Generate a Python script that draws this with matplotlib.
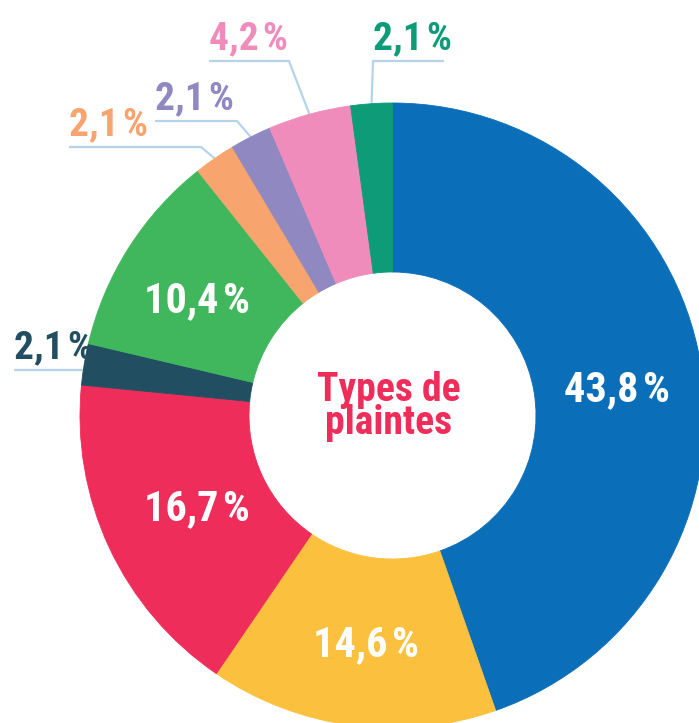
import numpy as np
import matplotlib
matplotlib.use("Agg")
import matplotlib.pyplot as plt
import matplotlib.font_manager as fm

# ---------------- data ----------------
SP = "\u200a"
values = [43.8, 14.6, 16.7, 2.1, 10.4, 2.1, 2.1, 4.2, 2.1]
value_labels = ["43,8" + SP + "%", "14,6" + SP + "%", "16,7" + SP + "%", "2,1" + SP + "%",
                "10,4" + SP + "%", "2,1" + SP + "%", "2,1" + SP + "%", "4,2" + SP + "%",
                "2,1" + SP + "%"]
center_title = "Types de\nplaintes"
colors = ["#0A6EB8", "#FBC13E", "#EE2D5A", "#214F61", "#41B75D",
          "#F7A46E", "#9088C0", "#F08CBB", "#0D9B78"]

# ---------------- layout (pixels, y measured from top) ----------------
W, H = 699, 723
CX, CY = 392.5, 415.5
R_OUT, R_IN = 312.5, 143.5
LEADER_COLOR = "#B5D3EA"
# inner labels: index -> nudge (dx, dy) in px
inner_nudge = {0: (0, 9), 1: (3, 0), 2: (11, -7), 4: (-3, 4)}
# outer labels: index -> (elbow_x or None, line_y, end_x)
outer_layout = {8: (373, 61, 444), 7: (289, 61, 209), 6: (237, 121, 155),
                5: (201, 147, 69), 3: (None, 370, 14)}


def pick_font():
    ttf = fm.fontManager.ttflist
    names = {f.name for f in ttf}
    for p in ["Roboto Condensed", "Barlow Condensed", "Open Sans Condensed",
              "Liberation Sans Narrow", "DejaVu Sans Condensed"]:
        if p in names:
            return p, "normal"
    for fam in ["Roboto", "Open Sans", "Noto Sans", "DejaVu Sans"]:
        if any(f.name == fam and str(f.stretch) in ("condensed", "semi-condensed", "extra-condensed")
               for f in ttf):
            return fam, "condensed"
    return "Roboto", "normal"


FAM, STRETCH = pick_font()
FONT = dict(family=[FAM, "DejaVu Sans"], fontstretch=STRETCH, fontweight="bold")


def py(y):
    return H - y


fig = plt.figure(figsize=(W / 100, H / 100), dpi=100)
ax = fig.add_axes([0, 0, 1, 1])

wedges, _ = ax.pie(values, colors=colors, startangle=90, counterclock=False,
                   center=(CX, py(CY)), radius=R_OUT,
                   wedgeprops=dict(width=R_OUT - R_IN, linewidth=0))
for w in wedges:
    w.set_edgecolor(w.get_facecolor())
    w.set_linewidth(0.6)

ax.set_xlim(0, W)
ax.set_ylim(0, H)
ax.set_aspect("equal")
ax.axis("off")

# inner labels
r_mid = (R_OUT + R_IN) / 2
for i, (dx, dy) in inner_nudge.items():
    w = wedges[i]
    mid = np.deg2rad((w.theta1 + w.theta2) / 2)
    x = CX + r_mid * np.cos(mid) + dx
    y = py(CY) + r_mid * np.sin(mid) - dy
    ax.text(x, y - 15, value_labels[i], color="white", fontsize=30.4,
            ha="center", va="baseline", **FONT)

# outer labels with leader lines
for i, (ex, ly, endx) in outer_layout.items():
    w = wedges[i]
    mid = np.deg2rad((w.theta1 + w.theta2) / 2)
    sx = CX + R_OUT * np.cos(mid)
    sy = py(CY) + R_OUT * np.sin(mid)
    if ex is None:
        dyc = py(ly) - py(CY)
        sx = CX - np.sqrt(R_OUT ** 2 - dyc ** 2) + 2
        xs, ys = [sx, endx], [py(ly), py(ly)]
        tx = endx
    else:
        xs, ys = [sx, ex, endx], [sy, py(ly), py(ly)]
        tx = min(ex, endx)
    ax.plot(xs, ys, color=LEADER_COLOR, lw=1.6, solid_capstyle="butt", zorder=0)
    ax.text(tx, py(ly) + 12, value_labels[i], color=colors[i], fontsize=28.4,
            ha="left", va="baseline", **FONT)

# centre title (single two-line text; baseline refers to the last line)
ax.text(388.5, py(434), center_title, color=colors[2], fontsize=28.5,
        ha="center", va="baseline", multialignment="center", linespacing=0.83,
        **FONT)

fig.savefig("out.png", dpi=100)
